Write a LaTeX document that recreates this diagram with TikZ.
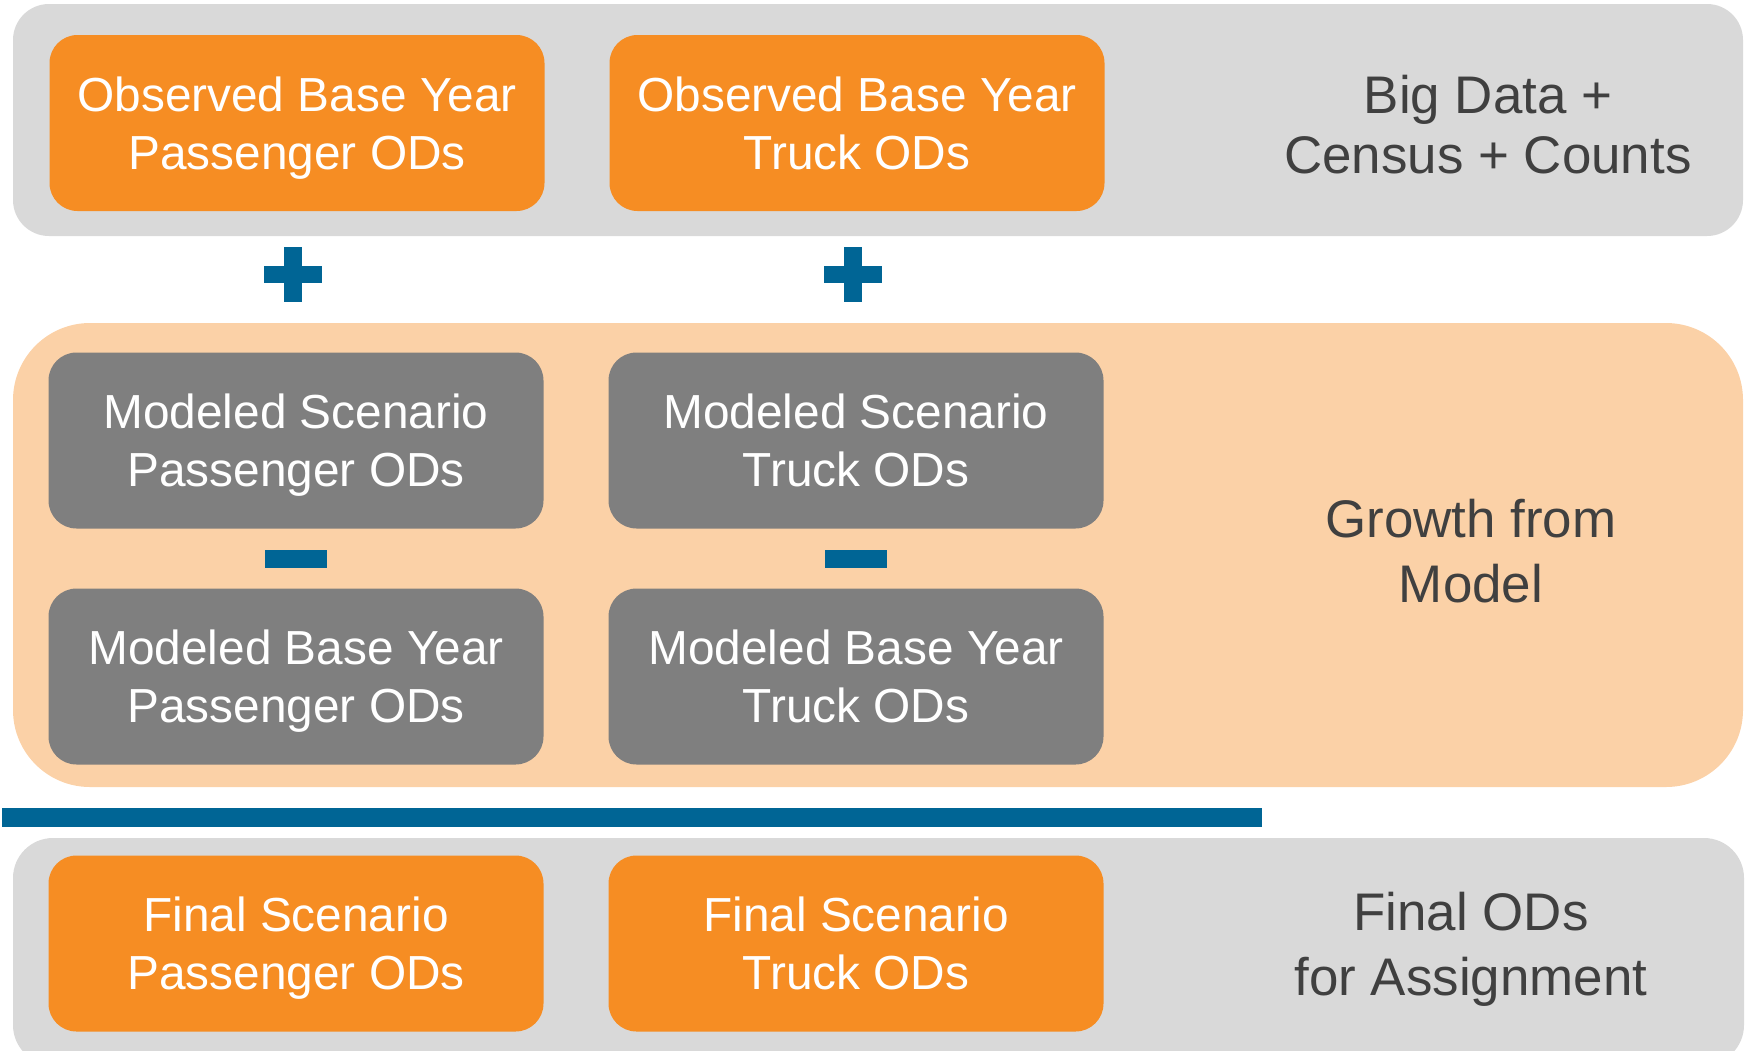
\documentclass[tikz,border=0pt]{standalone}
\usepackage{fontspec}
\setmainfont{Liberation Sans}
\definecolor{cOrange}{HTML}{F68D23}
\definecolor{cPeach}{HTML}{FBD1A7}
\definecolor{cBand}{HTML}{D9D9D9}
\definecolor{cBox}{HTML}{7F7F7F}
\definecolor{cBlue}{HTML}{006595}
\definecolor{cText}{HTML}{404040}
\begin{document}
\begin{tikzpicture}[x=1pt,y=-1pt,
  boxbase/.style={rounded corners=28pt, inner sep=0pt, minimum width=495pt, minimum height=176pt,
    text=white, align=center, text depth=0pt, font=\fontsize{47.8}{58}\selectfont},
  obox/.style={boxbase, fill=cOrange},
  gbox/.style={boxbase, fill=cBox},
  sidetext/.style={text=cText, align=center, inner sep=0pt, text depth=0pt},
  sym/.style={fill=cBlue}
]
\clip (0,0) rectangle (1748,1050);
% bands
\fill[cBand, rounded corners=36pt] (13,4) rectangle (1743,236);
\fill[cPeach, rounded corners=77pt] (13,323) rectangle (1743,787);
\fill[cBand, rounded corners=40pt] (13,838) rectangle (1744,1065);
\fill[cBlue] (2,808) rectangle (1262,827);

% top row
\node[obox] (obsP) at (297,123) {Observed Base Year\\Passenger ODs};
\node[obox] (obsT) at (857,123) {Observed Base Year\\Truck ODs};
\node[sidetext, font=\fontsize{52.9}{60}\selectfont] (bigdata) at (1488,124.2) {Big Data +\\Census + Counts};

% plus signs
\foreach \cx in {293,853}{
  \fill[sym] (\cx-29.3,265.7) rectangle (\cx+29.3,283.4);
  \fill[sym] (\cx-8.7,247) rectangle (\cx+8.7,302);
}

% middle
\node[gbox] (modSP) at (296,440.5) {Modeled Scenario\\Passenger ODs};
\node[gbox] (modST) at (856,440.5) {Modeled Scenario\\Truck ODs};
\node[gbox] (modBP) at (296,676.5) {Modeled Base Year\\Passenger ODs};
\node[gbox] (modBT) at (856,676.5) {Modeled Base Year\\Truck ODs};
\node[sidetext, font=\fontsize{52.9}{65}\selectfont] (growth) at (1471,550.5) {Growth from\\Model};

% minus signs
\foreach \cx in {296,856}{
  \fill[sym] (\cx-31,550) rectangle (\cx+31,568);
}

% bottom
\node[obox] (finP) at (296,943.5) {Final Scenario\\Passenger ODs};
\node[obox] (finT) at (856,943.5) {Final Scenario\\Truck ODs};
\node[sidetext, font=\fontsize{52.9}{65}\selectfont] (finalods) at (1471,943.7) {Final ODs\\for Assignment};
\end{tikzpicture}
\end{document}
